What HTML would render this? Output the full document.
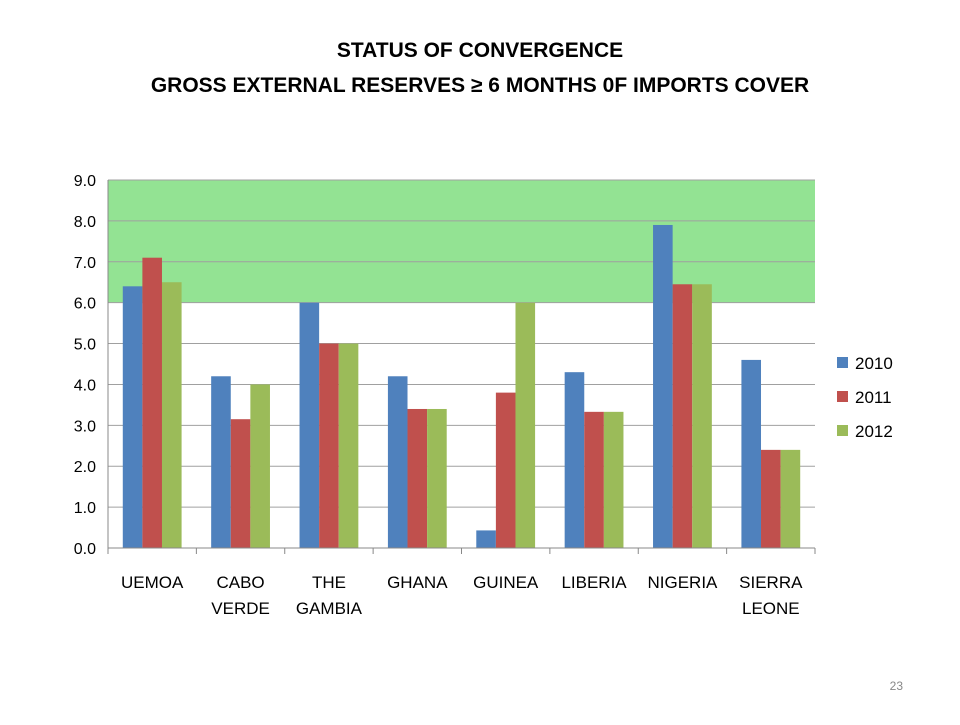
<!DOCTYPE html>
<html><head><meta charset="utf-8"><style>
body{margin:0;background:#fff;width:960px;height:720px;overflow:hidden;font-family:"Liberation Sans",sans-serif;}
</style></head><body>
<svg width="960" height="720" font-family="Liberation Sans, sans-serif">
<text x="480" y="57" text-anchor="middle" font-size="21" font-weight="bold">STATUS OF CONVERGENCE</text>
<text x="480" y="92" text-anchor="middle" font-size="21" font-weight="bold">GROSS EXTERNAL RESERVES ≥ 6 MONTHS 0F IMPORTS COVER</text>
<g id="plot"></g>
<text x="903" y="690" text-anchor="end" font-size="12" fill="#888">23</text>
</svg>
<script>
const categories=[["UEMOA"],["CABO","VERDE"],["THE","GAMBIA"],["GHANA"],["GUINEA"],["LIBERIA"],["NIGERIA"],["SIERRA","LEONE"]];
const s2010=[6.4,4.2,6.0,4.2,0.43,4.3,7.9,4.6];
const s2011=[7.1,3.15,5.0,3.4,3.8,3.33,6.45,2.4];
const s2012=[6.5,4.0,5.0,3.4,6.0,3.33,6.45,2.4];
const seriesNames=["2010","2011","2012"];
const yTicks=["0.0","1.0","2.0","3.0","4.0","5.0","6.0","7.0","8.0","9.0"];
const targetLow=6, yMax=9;
const colors=["#4f81bd","#c0504d","#9bbb59"];
const NS="http://www.w3.org/2000/svg";
const g=document.getElementById('plot');
const X0=108,X1=815,Y0=548,Y1=180;
const y=v=>Y0-(v/yMax)*(Y0-Y1);
const cw=(X1-X0)/categories.length;
function el(t,a){const e=document.createElementNS(NS,t);for(const k in a)e.setAttribute(k,a[k]);g.appendChild(e);return e;}
let band=el('rect',{x:X0,y:y(yMax),width:X1-X0,height:y(targetLow)-y(yMax),fill:'#93e393'});


yTicks.forEach(t=>{const v=parseFloat(t);
 let l=el('line',{x1:X0,x2:X1,y1:y(v),y2:y(v),stroke:'#a0a0a0','stroke-width':1});
 
 
 let tx=el('text',{x:X0-12,y:y(v)+6,'text-anchor':'end','font-size':16,fill:'#000'});tx.textContent=t;
 
 
});
const series=[s2010,s2011,s2012];
const bw=19.6, off=(cw-3*bw)/2;
categories.forEach((c,i)=>{
 series.forEach((s,j)=>{
  let r=el('rect',{x:X0+i*cw+off+j*bw,y:y(s[i]),width:bw,height:Y0-y(s[i]),fill:colors[j]});
  
  
 });
 let tk=el('line',{x1:X0+i*cw,x2:X0+i*cw,y1:Y0,y2:Y0+6,stroke:'#888'});
 
 
 c.forEach((w,k)=>{let t=el('text',{x:X0+i*cw+cw/2,y:Y0+40+k*26,'text-anchor':'middle','font-size':17});t.textContent=w;
  
  });
});
let tk=el('line',{x1:X1,x2:X1,y1:Y0,y2:Y0+6,stroke:'#888'});


let ax=el('line',{x1:X0,x2:X1,y1:Y0,y2:Y0,stroke:'#888'});


let ay=el('line',{x1:X0,x2:X0,y1:Y0,y2:Y1,stroke:'#888'});


seriesNames.forEach((n,j)=>{
 let r=el('rect',{x:837,y:357+j*34,width:11,height:11,fill:colors[j]});
 
 
 let t=el('text',{x:855,y:369+j*34,'font-size':17});t.textContent=n;
 
 
});
</script>
</body></html>
